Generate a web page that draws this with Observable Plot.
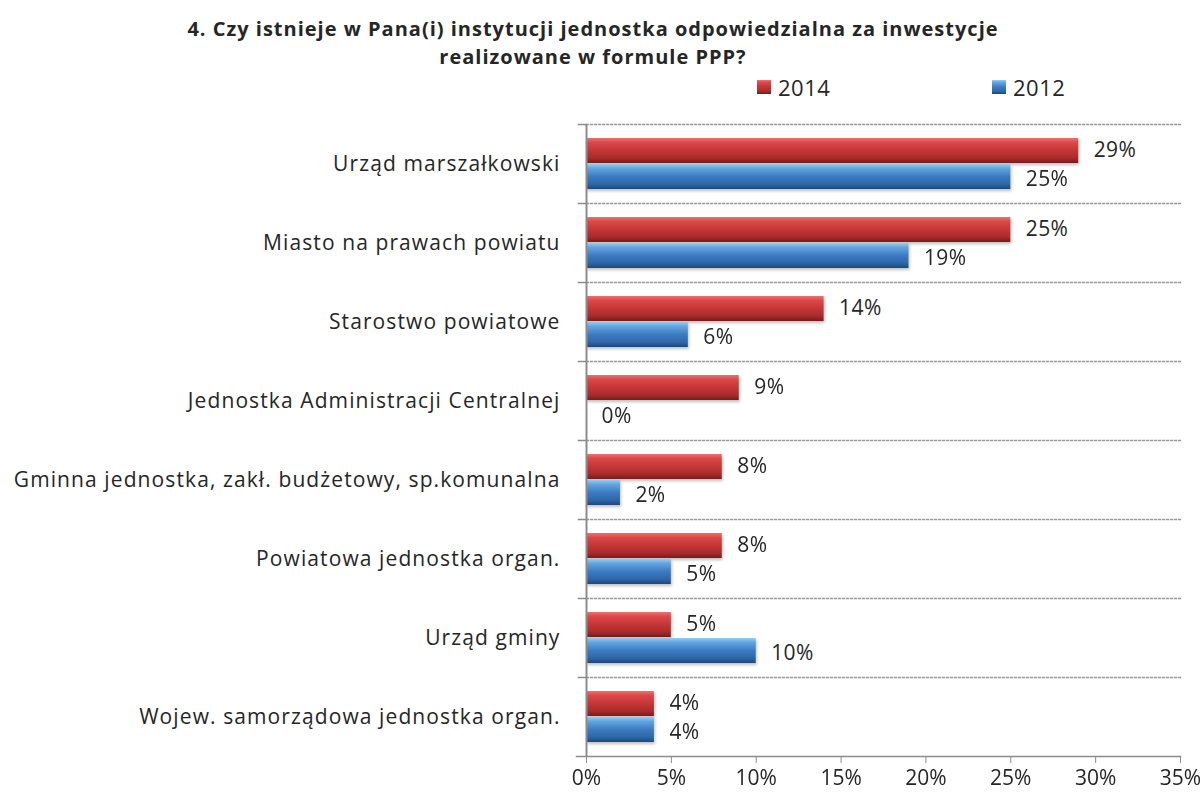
<!DOCTYPE html>
<html>
<head>
<meta charset="utf-8">
<script src="https://cdn.jsdelivr.net/npm/d3@7"></script>
<script src="https://cdn.jsdelivr.net/npm/@observablehq/plot@0.6"></script>
<style>
  body { margin: 0; background: #fff; font-family: "Open Sans", "Noto Sans", sans-serif; color: #262626; }
  #title { width: 1186px; text-align: center; font-weight: bold; font-size: 20px; line-height: 28px; padding-top: 15px; letter-spacing: 1px; }
  #legend { position: relative; height: 32px; font-size: 22px; letter-spacing: 0.5px; }
  .item { position: absolute; top: 0; line-height: 32px; display: flex; align-items: center; }
  .sw { width: 14px; height: 14px; margin-right: 7px; }
  #chart svg g[aria-label^="fy-axis"] text { letter-spacing: 1.1px; }
  #chart svg g[aria-label="bar"] { filter: drop-shadow(1px 2px 1.5px rgba(0,0,0,0.25)); }
  #chart svg g[aria-label="text"] text { letter-spacing: 0.4px; }
</style>
</head>
<body>
<div id="title">4. Czy istnieje w Pana(i) instytucji jednostka odpowiedzialna za inwestycje<br>realizowane w formule PPP?</div>
<div id="legend"></div>
<div id="chart"></div>
<script>
const categories = [
  "Urząd marszałkowski",
  "Miasto na prawach powiatu",
  "Starostwo powiatowe",
  "Jednostka Administracji Centralnej",
  "Gminna jednostka, zakł. budżetowy, sp.komunalna",
  "Powiatowa jednostka organ.",
  "Urząd gminy",
  "Wojew. samorządowa jednostka organ."
];
const series = ["2014", "2012"];
const values2014 = [29, 25, 14, 9, 8, 8, 5, 4];
const values2012 = [25, 19, 6, 0, 2, 5, 10, 4];
const xTicks = [0, 5, 10, 15, 20, 25, 30, 35];

const data = [];
categories.forEach((c, i) => {
  data.push({category: c, series: "2014", value: values2014[i]});
  data.push({category: c, series: "2012", value: values2012[i]});
});

const gradients = {
  "2014": [["0%", "#ee7070"], ["18%", "#dc4848"], ["50%", "#c43636"], ["80%", "#a92b2b"], ["100%", "#761c1c"]],
  "2012": [["0%", "#94cdf2"], ["18%", "#62a4df"], ["50%", "#3c7bc2"], ["80%", "#2f67a9"], ["100%", "#1e4879"]]
};
const fillId = {"2014": "url(#g2014)", "2012": "url(#g2012)"};
const labelDy = {"2014": -1, "2012": 2};

// legend
const legend = document.getElementById("legend");
[["2014", 757], ["2012", 992]].forEach(([s, left]) => {
  const it = document.createElement("div");
  it.className = "item";
  it.style.left = left + "px";
  const sw = document.createElement("div");
  sw.className = "sw";
  sw.style.background = "linear-gradient(" + gradients[s].map(([o, c]) => c + " " + o).join(",") + ")";
  it.appendChild(sw);
  const t = document.createElement("span");
  t.textContent = s;
  it.appendChild(t);
  legend.appendChild(it);
});

const W = 1203, ML = 586, MR = 23;
const plotW = W - ML - MR;

const chart = Plot.plot({
  width: W,
  height: 692,
  marginLeft: ML,
  marginRight: MR,
  marginTop: 21,
  marginBottom: 39,
  style: {fontFamily: "'Open Sans', 'Noto Sans', sans-serif", fontSize: "21px", color: "#262626", background: "#fff"},
  x: {domain: [0, 35]},
  y: {domain: series, paddingInner: 0.04, paddingOuter: 0.5, axis: null},
  fy: {domain: categories, padding: 0},
  marks: [
    Plot.frame({anchor: "top", stroke: "#9a9a9a", strokeDasharray: "2,2", strokeWidth: 1.3}),
    Plot.frame({anchor: "top", stroke: "#8c8c8c", strokeWidth: 1.5, insetLeft: -8, insetRight: plotW}),
    Plot.frame({anchor: "bottom", stroke: "#8c8c8c", strokeWidth: 1.5, insetLeft: -10, facetAnchor: "bottom"}),
    Plot.barX(data, {
      x: "value", y: "series", fy: "category",
      fill: d => fillId[d.series]
    }),
    Plot.ruleX([0], {stroke: "#8c8c8c", strokeWidth: 2}),
    Plot.text(data.filter(d => d.series === "2014"), {
      x: "value", y: "series", fy: "category",
      text: d => d.value + "%", textAnchor: "start", dx: 15, dy: labelDy["2014"],
      fill: "#262626", fontSize: 21
    }),
    Plot.text(data.filter(d => d.series === "2012"), {
      x: "value", y: "series", fy: "category",
      text: d => d.value + "%", textAnchor: "start", dx: 15, dy: labelDy["2012"],
      fill: "#262626", fontSize: 21
    }),
    Plot.axisFy({anchor: "left", tickSize: 0, tickPadding: 26, label: null, fontSize: 21}),
    Plot.axisX({ticks: xTicks, tickFormat: d => d + "%", tickSize: 7, tickPadding: 7, label: null, stroke: "#8c8c8c", fontSize: 21})
  ]
});

const ns = "http://www.w3.org/2000/svg";
const defs = document.createElementNS(ns, "defs");
Object.entries(gradients).forEach(([s, stops]) => {
  const g = document.createElementNS(ns, "linearGradient");
  g.setAttribute("id", "g" + s);
  g.setAttribute("x1", "0"); g.setAttribute("y1", "0");
  g.setAttribute("x2", "0"); g.setAttribute("y2", "1");
  stops.forEach(([o, c]) => {
    const st = document.createElementNS(ns, "stop");
    st.setAttribute("offset", o);
    st.setAttribute("stop-color", c);
    g.appendChild(st);
  });
  defs.appendChild(g);
});
chart.insertBefore(defs, chart.firstChild);
document.getElementById("chart").appendChild(chart);
</script>
</body>
</html>
